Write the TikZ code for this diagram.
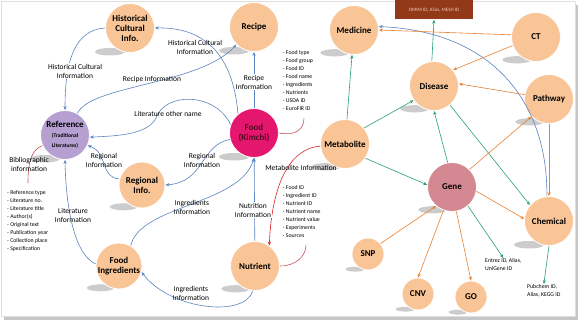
\documentclass[tikz,border=0pt]{standalone}
\usepackage{fontspec}
\setmainfont{Carlito}
\usepackage{tikz}
\usepackage{xcolor}
\usetikzlibrary{arrows.meta,backgrounds,calc}

\definecolor{peach}{RGB}{249,196,150}
\definecolor{lilac}{RGB}{182,160,210}
\definecolor{kimchi}{RGB}{228,22,110}
\definecolor{kimchitext}{RGB}{80,10,30}
\definecolor{rose}{RGB}{212,136,146}
\definecolor{omim}{RGB}{146,58,24}
\definecolor{omimtext}{RGB}{240,205,190}
\definecolor{lblue}{RGB}{92,132,192}
\definecolor{lgreen}{RGB}{40,160,112}
\definecolor{lorange}{RGB}{232,128,48}
\definecolor{lred}{RGB}{222,34,34}
\definecolor{dred}{RGB}{196,84,90}

\begin{document}
\begin{tikzpicture}[x=1pt,y=-1pt,
  ball/.style={circle,fill=peach,draw=white,line width=0.8pt,minimum size=49pt,inner sep=0pt,align=center,font=\fontsize{9}{10}\selectfont\bfseries},
  small ball/.style={ball,minimum size=32pt},
  lab/.style={font=\fontsize{7.5}{9}\selectfont,align=center,inner sep=1pt},
  list/.style={font=\fontsize{5.8}{8.1}\selectfont,align=left,inner sep=0pt,anchor=north west},
  flowb/.style={draw=lblue,line width=0.6pt,-{Stealth[length=4pt,width=3.2pt]}},
  flowg/.style={flowb,draw=lgreen},
  flowo/.style={flowb,draw=lorange},
  brace/.style={draw=dred,line width=0.6pt}]
\useasboundingbox (0,0) rectangle (579,323);

% food side
\node[ball] (hci) at (130,28) {Historical\\Cultural\\Info.};
\node[ball] (recipe) at (254,27) {Recipe};
\node[ball,fill=lilac] (ref) at (65,135) {Reference\\{\fontsize{5.5}{6.5}\selectfont (Traditional}\\{\fontsize{5.5}{6.5}\selectfont Literatures)}};
\node[ball,fill=kimchi,text=kimchitext] (food) at (254,133) {Food\\(Kimchi)};
\node[ball,minimum size=46pt] (reg) at (142,185) {Regional\\Info.};
\node[ball,minimum size=46pt] (ingr) at (119,266) {Food\\Ingredients};
\node[ball] (nutr) at (255,266) {Nutrient};
\node[ball] (metab) at (345,144) {Metabolite};

% gene side
\node[ball] (medi) at (354,30) {Medicine};
\node[ball] (ct) at (536,37) {CT};
\node[ball] (dis) at (434,86) {Disease};
\node[ball] (path) at (549,99) {Pathway};
\node[ball,fill=rose] (gene) at (452,187) {Gene};
\node[ball] (chem) at (549,221) {Chemical};
\node[small ball] (snp) at (368,254) {SNP};
\node[small ball] (cnv) at (418,294) {CNV};
\node[small ball] (go) at (471,297) {GO};
\node[fill=omim,text=omimtext,minimum width=78pt,minimum height=19pt,inner sep=0pt,font=\fontsize{5}{6}\selectfont] (ids) at (434,10) {OMIM ID, Alias, MESH ID};

% lists
\node[list] (reflist) at (7,190) {- Reference type\\- Literature no.\\- Literature title\\- Author(s)\\- Original text\\- Publication year\\- Collection place\\- Specification};
\node[list] (foodlist) at (283,50) {· Food type\\· Food group\\· Food ID\\· Food name\\· Ingredients\\· Nutrients\\· USDA ID\\· EuroFIR ID};
\node[list] (nutrlist) at (283,185) {· Food ID\\· Ingredient ID\\· Nutrient ID\\· Nutrient name\\· Nutrient value\\· Experiments\\· Sources};
\node[list] (entrez) at (485,258) {Entrez ID, Alias,\\UniGene ID};
\node[list] (pubc) at (527,284) {Pubchem ID,\\Alias, KEGG ID};

\coordinate (bibend) at (28,183);
\coordinate (foodend) at (304,118);
\coordinate (nutrend) at (306,245);

% blue links
\draw[flowb] (food) -- (recipe);
\draw[flowb] (food.130) .. controls (233,55) and (205,27) .. (hci.east);
\draw[flowb] (ref.60) .. controls (90,85) and (200,85) .. (recipe.225);
\draw[flowb] (hci.west) .. controls (75,30) and (65,60) .. (ref.north);
\draw[flowb] (food.160) .. controls (215,92) and (165,92) .. (156,118) .. controls (148,135) and (115,136) .. (ref.-5);
\draw[flowb] (food.195) .. controls (200,145) and (205,182) .. (reg.east);
\draw[flowb] (reg.165) .. controls (100,178) and (108,152) .. (ref.-25);
\draw[flowb] (ingr.175) .. controls (75,255) and (66,210) .. (ref.south);
\draw[flowb] (ingr.60) .. controls (140,205) and (240,205) .. (food.south);
\draw[flowb] (nutr) -- (food);
\draw[flowb] (nutr.265) .. controls (245,318) and (170,310) .. (ingr.-15);
\draw[flowb] (chem.95) .. controls (548,110) and (500,32) .. (medi.8);

% red links
\draw[brace] (ref.205) .. controls (32,150) and (28,160) .. (bibend);
\draw[brace] (food.east) .. controls (295,136) and (304,130) .. (foodend);
\draw[brace] (nutr.east) .. controls (296,266) and (306,256) .. (nutrend);
\draw[flowb,draw=lred] (metab.185) .. controls (292,148) and (272,180) .. (nutr.55);

% green links
\draw[flowg] (metab) -- (medi);
\draw[flowg] (metab.40) -- (dis.215);
\draw[flowg] (metab.-35) -- (gene.175);
\draw[flowg] (dis.95) -- (ids.south);
\draw[flowg] (gene.100) -- (dis.south);
\draw[flowg] (dis.-50) -- (chem.140);
\draw[flowg] (gene.-50) -- (entrez.north);
\draw[flowg] (chem.south) -- (pubc.north);

% orange links
\draw[flowo] (ct.175) -- (medi.east);
\draw[flowo] (ct.200) -- (dis.40);
\draw[flowo] (path.170) -- (dis.5);
\draw[flowo] (path) -- (chem);
\draw[flowo] (gene.45) -- (path.225);
\draw[flowo] (gene.-10) -- (chem.175);
\draw[flowo] (snp.40) -- (gene.230);
\draw[flowo] (gene.250) -- (cnv.north);
\draw[flowo] (gene.-80) -- (go.north);

% labels
\node[lab,fill=white] (l1) at (75,71) {Historical Cultural\\Information};
\node[lab] (l2) at (195,47) {Historical Cultural\\Information};
\node[lab] (l3) at (152,80) {Recipe Information};
\node[lab,fill=white] (l4) at (254,82) {Recipe\\Information};
\node[lab] (l5) at (168,114) {Literature other name};
\node[lab] (l6) at (104,160) {Regional\\Information};
\node[lab] (l7) at (202,160) {Regional\\Information};
\node[lab] (l8) at (73,215) {Literature\\Information};
\node[lab] (l9) at (192,207) {Ingredients\\Information};
\node[lab,fill=white] (l10) at (253,210) {Nutrition\\Information};
\node[lab] (l11) at (191,293) {Ingredients\\Information};
\node[lab] (l12) at (301,168) {Metabolite Information};
\node[lab] (bib) at (29,164) {Bibliographic\\information};

\begin{scope}[on background layer]
\fill[gray!45] (4,5) rectangle (578,320);
\filldraw[fill=white,draw=gray!25] (1,1) rectangle (575,316);
\foreach \n/\r in {hci/25,recipe/25,ref/25,food/25,reg/23,ingr/23,nutr/24,metab/24,medi/24,ct/24,dis/24,path/24,gene/24,chem/25,snp/16,cnv/16,go/16}
  \fill[gray!40] ($(\n)+(-0.8*\r,0.95*\r)$) ellipse[x radius=0.6*\r,y radius=0.15*\r];
\end{scope}
\end{tikzpicture}
\end{document}
